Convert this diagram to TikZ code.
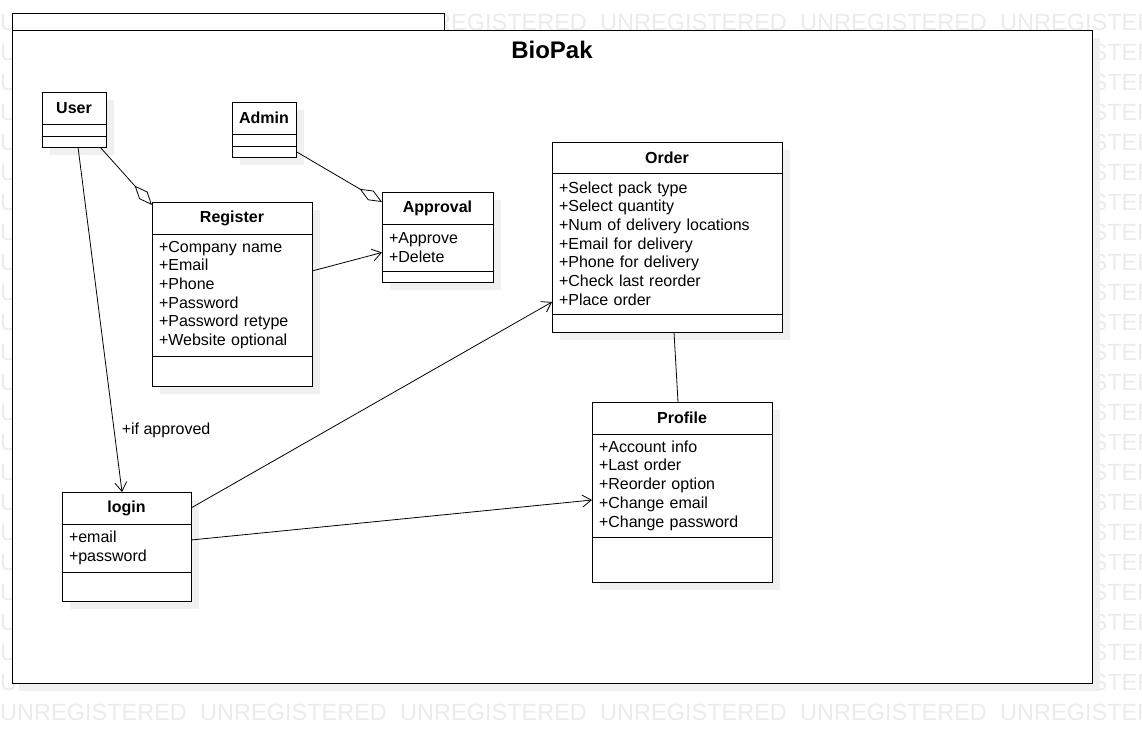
\documentclass[tikz,border=0pt]{standalone}
\usepackage{fontspec}
\setmainfont{Liberation Sans}
\usetikzlibrary{arrows.meta,shadows,positioning}
\definecolor{umlshadow}{HTML}{F0F0F0}
\definecolor{wmgray}{HTML}{EBEBEB}

\begin{document}
\begin{tikzpicture}
    [x=1pt, y=-1pt,
    every node/.style={font=\fontsize{16}{18.7}\selectfont},
    uml/.style={draw=black, line width=0.9pt, fill=white, inner xsep=7pt, inner ysep=0pt,
        outer sep=0pt, text width=#1,
        general shadow={fill=umlshadow, shadow xshift=8pt, shadow yshift=-8pt}},
    classname/.style={uml=#1, align=center, minimum height=32,
        font=\bfseries\fontsize{16}{18.7}\selectfont},
    classpart/.style={uml=#1, align=left},
    package/.style={draw=black, line width=1pt, fill=white},
    assoc/.style={line width=0.8pt, -{Straight Barb[length=9pt,width=12pt]}},
    aggregation/.style={line width=0.8pt, -{Diamond[open,length=26pt,width=11pt]}},
    link/.style={line width=0.8pt},
    watermark/.style={font=\fontsize{23.5}{24}\selectfont, text=wmgray, inner sep=0pt, anchor=base west}]

    \useasboundingbox (0,0) rectangle (1142,732);

    % watermark, only the parts that show round the package
    \foreach \row in {0,22,23}
        \foreach \col in {0,...,5}
            \node[watermark] (wm-\row-\col) at (\col*200, 30+\row*30) {UNREGISTERED};
    \foreach \row in {1,...,21} {
        \node[watermark] (wm-\row-0) at (0, 30+\row*30) {U};
        \node[watermark] (wm-\row-5) at (1000, 30+\row*30) {UNREGISTERED};
    }

    % drawing the package
    \fill[umlshadow] (20,38) rectangle (1100,691);
    \draw[package] (12,13) rectangle (444,30);
    \draw[package] (12,30) rectangle (1092,683);
    \node[font=\bfseries\fontsize{24}{28}\selectfont] (pkg name) at (552,50) {BioPak};

    % drawing the classes
    \node[classname=50, anchor=north west] (user name) at (42,92) {User};
    \node[classpart=50, minimum height=12, below=0pt of user name] (user attr) {};
    \node[classpart=50, minimum height=11, below=0pt of user attr] (user ops) {};

    \node[classname=50, anchor=north west] (admin name) at (232,102) {Admin};
    \node[classpart=50, minimum height=12, below=0pt of admin name] (admin attr) {};
    \node[classpart=50, minimum height=11, below=0pt of admin attr] (admin ops) {};

    \node[classname=146, anchor=north west] (register name) at (152,202) {Register};
    \node[classpart=146, minimum height=122, below=0pt of register name] (register attr)
        {+Company name\\+Email\\+Phone\\+Password\\+Password retype\\+Website optional};
    \node[classpart=146, minimum height=30, below=0pt of register attr] (register ops) {};

    \node[classname=97, anchor=north west] (approval name) at (382,192) {Approval};
    \node[classpart=97, minimum height=47, below=0pt of approval name] (approval attr)
        {+Approve\\+Delete};
    \node[classpart=97, minimum height=11, below=0pt of approval attr] (approval ops) {};

    \node[classname=216, minimum height=31, anchor=north west] (order name) at (552,142) {Order};
    \node[classpart=216, minimum height=141, below=0pt of order name] (order attr)
        {+Select pack type\\+Select quantity\\+Num of delivery locations\\+Email for delivery\\+Phone for delivery\\+Check last reorder\\+Place order};
    \node[classpart=216, minimum height=18, below=0pt of order attr] (order ops) {};

    \node[classname=166, anchor=north west] (profile name) at (592,402) {Profile};
    \node[classpart=166, minimum height=103, below=0pt of profile name] (profile attr)
        {+Account info\\+Last order\\+Reorder option\\+Change email\\+Change password};
    \node[classpart=166, minimum height=45, below=0pt of profile attr] (profile ops) {};

    \node[classname=115, anchor=north west] (login name) at (62,492) {login};
    \node[classpart=115, minimum height=48, below=0pt of login name] (login attr)
        {+email\\+password};
    \node[classpart=115, minimum height=29, below=0pt of login attr] (login ops) {};

    % drawing the relations
    \draw[aggregation] ([xshift=-6pt]user ops.south east) -- ([yshift=-3pt]register name.north west);
    \draw[aggregation] (admin ops.east) -- ([yshift=-10pt]approval name.north west);
    \draw[assoc] ([yshift=-37pt]register name.south east) -- ([yshift=-5pt]approval attr.west);
    \draw[assoc] ([xshift=4pt]user ops.south) -- ([xshift=-4.5pt]login name.north)
        node[pos=0.82, anchor=west, xshift=4pt] (approved) {+if approved};
    \draw[assoc] (login name.east) -- ([yshift=12pt]order attr.south west);
    \draw[assoc] ([yshift=8pt]login attr.east) -- ([yshift=-14.5pt]profile attr.west);
    \draw[link] ([xshift=7pt]order ops.south) -- ([xshift=-4pt]profile name.north);

\end{tikzpicture}
\end{document}
